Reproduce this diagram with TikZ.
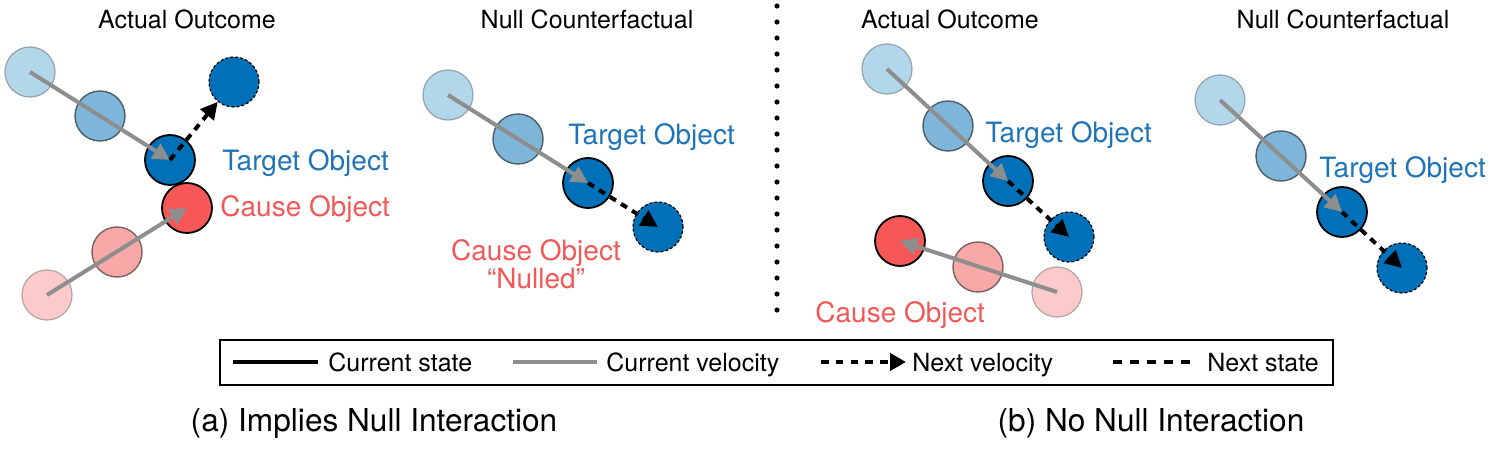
\documentclass[tikz,border=0pt]{standalone}
\usepackage{fontspec}
\setmainfont{TeX Gyre Heros}
\usetikzlibrary{arrows.meta}
\definecolor{lbfill}{HTML}{B3D7EA}
\definecolor{lbdraw}{HTML}{95A2AB}
\definecolor{mbfill}{HTML}{7EB6DA}
\definecolor{mbdraw}{HTML}{4D5D69}
\definecolor{dbfill}{HTML}{0071B9}
\definecolor{lrfill}{HTML}{FCCACA}
\definecolor{lrdraw}{HTML}{B3A3A3}
\definecolor{mrfill}{HTML}{F9A8A8}
\definecolor{mrdraw}{HTML}{7A6262}
\definecolor{rfill}{HTML}{F75757}
\definecolor{tblue}{HTML}{1F74B8}
\definecolor{tred}{HTML}{F25858}
\definecolor{velgray}{HTML}{8E8E8E}
\tikzset{
  ball/.style={circle,inner sep=0pt,minimum size=25pt},
  lb/.style={ball,fill=lbfill,draw=lbdraw,line width=0.6pt},
  mb/.style={ball,fill=mbfill,draw=mbdraw,line width=0.7pt},
  db/.style={ball,fill=dbfill,draw=black,line width=0.9pt},
  nb/.style={ball,fill=dbfill,draw=black,line width=0.6pt,dash pattern=on 1.5pt off 1pt},
  lr/.style={ball,fill=lrfill,draw=lrdraw,line width=0.6pt},
  mr/.style={ball,fill=mrfill,draw=mrdraw,line width=0.7pt},
  rr/.style={ball,fill=rfill,draw=black,line width=0.9pt},
  vel/.style={draw=velgray,line width=2pt,-{Triangle[length=8.5pt,width=8.5pt]}},
  nvel/.style={draw=black,line width=2pt,dash pattern=on 3.5pt off 3pt,-{Triangle[length=8.5pt,width=8.5pt]}},
  ttl/.style={font=\fontsize{12.5pt}{15pt}\selectfont,anchor=base},
  tlab/.style={font=\fontsize{14pt}{17pt}\selectfont,text=tblue,anchor=base west,inner sep=0pt},
  rlab/.style={font=\fontsize{14pt}{17pt}\selectfont,text=tred,inner sep=0pt},
  leg/.style={font=\fontsize{12.5pt}{15pt}\selectfont,anchor=base west,inner sep=0pt},
  captxt/.style={font=\fontsize{15.8pt}{19pt}\selectfont,anchor=base},
}
\begin{document}
\begin{tikzpicture}[x=0.5pt,y=-0.5pt]
\useasboundingbox (0,0) rectangle (1495,449);
% titles
\node[ttl] (t1) at (187,29) {Actual Outcome};
\node[ttl] (t2) at (587,29) {Null Counterfactual};
\node[ttl] (t3) at (950,29) {Actual Outcome};
\node[ttl] (t4) at (1343,29) {Null Counterfactual};
% divider
\coordinate (dvtop) at (777,6);
\coordinate (dvbot) at (777,312);
\draw[line width=2.6pt,line cap=round,dash pattern=on 0pt off 8pt] (dvtop) -- (dvbot);
% panel 1
\node[lb] (a1) at (30,72) {};
\node[mb] (a2) at (100,116) {};
\node[db] (a3) at (170,160) {};
\node[nb] (an) at (234,82) {};
\node[lr] (c1) at (47,295) {};
\node[mr] (c2) at (117,252) {};
\node[rr] (c3) at (187,208) {};
\draw[vel] (a1.center) -- (a3.center);
\draw[nvel] (a3.center) -- (an);
\draw[vel] (c1.center) -- (c3.center);
\node[tlab] (l1) at (222,170) {Target Object};
\node[rlab,anchor=base west] (l2) at (220,217) {Cause Object};
% panel 2
\node[lb] (b1) at (448,95) {};
\node[mb] (b2) at (518,139) {};
\node[db] (b3) at (588,183) {};
\node[nb] (bn) at (658,227) {};
\draw[vel] (b1.center) -- (b3.center);
\draw[nvel] (b3.center) -- (bn.center);
\node[tlab] (l3) at (568,145) {Target Object};
\node[rlab,anchor=base] (l4) at (536,260) {Cause Object};
\node[rlab,anchor=base] (l5) at (536,288) {“Nulled”};
% panel 3
\node[lb] (d1) at (887,69) {};
\node[mb] (d2) at (948,126) {};
\node[db] (d3) at (1008,181) {};
\node[nb] (dn) at (1069,237) {};
\node[lr] (e1) at (1057,292) {};
\node[mr] (e2) at (978,267) {};
\node[rr] (e3) at (900,241) {};
\draw[vel] (d1.center) -- (d3.center);
\draw[nvel] (d3.center) -- (dn.center);
\draw[vel] (e1.center) -- (e3.center);
\node[tlab] (l6) at (985,143) {Target Object};
\node[rlab,anchor=base west] (l7) at (815,322) {Cause Object};
% panel 4
\node[lb] (f1) at (1220,100) {};
\node[mb] (f2) at (1281,156) {};
\node[db] (f3) at (1342,212) {};
\node[nb] (fn) at (1402,268) {};
\draw[vel] (f1.center) -- (f3.center);
\draw[nvel] (f3.center) -- (fn.center);
\node[tlab] (l8) at (1319,177) {Target Object};
% legend
\node[draw=black,line width=0.8pt,minimum width=556.5pt,minimum height=22.5pt,inner sep=0pt] (legbox) at (776.5,362.5) {};
\coordinate (s1a) at (233,362);
\coordinate (s1b) at (318,362);
\draw[black,line width=2.4pt] (s1a) -- (s1b);
\node[leg] (g1) at (328,371) {Current state};
\coordinate (s2a) at (513,362);
\coordinate (s2b) at (597,362);
\draw[velgray,line width=2.2pt] (s2a) -- (s2b);
\node[leg] (g2) at (606,371) {Current velocity};
\coordinate (s3a) at (821,362);
\coordinate (s3b) at (906,362);
\draw[black,line width=2.4pt,dash pattern=on 3.8pt off 3.6pt,-{Triangle[length=8pt,width=8.5pt]}] (s3a) -- (s3b);
\node[leg] (g3) at (912,371) {Next velocity};
\coordinate (s4a) at (1113,362);
\coordinate (s4b) at (1192,362);
\draw[black,line width=2.4pt,dash pattern=on 4.5pt off 4pt] (s4a) -- (s4b);
\node[leg] (g4) at (1207,371) {Next state};
% captions
\node[captxt] (k1) at (374,431) {(a) Implies Null Interaction};
\node[captxt] (k2) at (1151,431) {(b) No Null Interaction};
\end{tikzpicture}
\end{document}
